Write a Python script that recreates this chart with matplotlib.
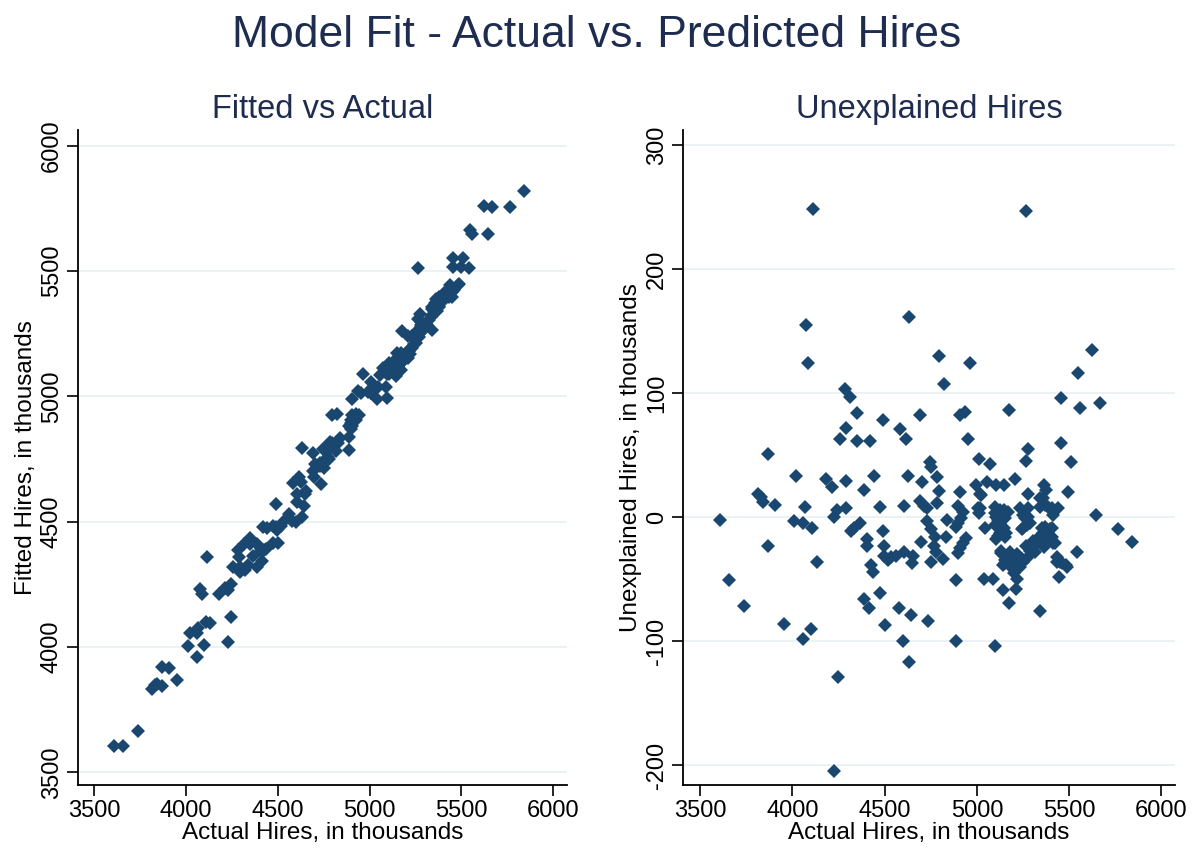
import matplotlib
matplotlib.use('Agg')
import matplotlib.pyplot as plt
import numpy as np

# actual hires and unexplained part (thousands)
actual = [4113,4075,4086,4634,4284,4313,5265,4794,4964,4821,5625,5549,5456,5665,
    4289,4257,3868,4021,4180,4212,4292,3812,3832,3840,3908,4066,4244,4293,4226,3605,4008,4059,4108,3868,4131,
    4349,4491,4691,4906,4937,5175,4349,4418,4585,4616,4952,4745,4750,5010,5070,
    4443,4389,4625,4701,4784,4793,4906,4993,5057,5106,5148,5021,
    4473,4603,4689,4712,4727,4785,4897,5007,5010,5097,5100,5148,5115,
    4925,4916,4897,4888,4837,4727,4367,4335,4320,4752,4774,4491,5046,
    5115,5148,5124,5152,5106,
    4407,4407,4830,4498,4698,4770,4779,4943,4925,4906,4897,
    4498,4535,4562,4516,4607,4652,4649,4752,4815,5133,5152,5142,5178,4425,
    5560,5275,5264,5456,5510,5209,5363,5376,5358,5340,5496,5279,5387,5438,5414,5645,5765,5841,
    5260,5251,5269,5369,5405,5360,5396,5333,5378,5414,5365,
    5264,5287,5215,5188,5242,5314,5433,5451,5483,5541,5151,5197,
    4435,3654,3736,3953,4099,4059,4247,4226,4386,4416,4474,4502,4576,4643,4598,4634,4734,
    4888,4888,5097,5039,5088,5188,5202,5220,5142,5211,5173,5342,5215,5251,5433,5460,5487,5446,
    5278,5341,5369,5405,5278,5287,5351,5396,5360,5405,5378,5342,5423,5324,5306,5287,5296,5269,
    5015,5015,5124,5170,5106,5152,5124,5097,5133,5160,5115,5233,5251,5242,5133,5178,5215,5170,5197,5233]

unexplained = [248,155,124,161,103,97,247,130,124,107,135,116,96,92,
    72,63,51,33,31,24,29,19,16,12,10,8,6,7,0,-2,-3,-5,-9,-23,-36,
    84,78,82,82,85,86,61,61,71,63,63,44,40,47,43,
    33,22,33,28,32,21,20,26,28,26,26,18,
    8,9,13,9,7,11,9,7,3,8,3,6,-2,
    4,-1,-5,-8,-2,-3,-5,-9,-11,-10,-16,-11,-9,
    -5,-9,-13,-16,-18,
    -18,-23,-16,-23,-20,-23,-28,-17,-21,-25,-29,
    -31,-32,-31,-35,-28,-31,-37,-36,-34,-29,-35,-39,-39,-39,
    88,55,45,60,44,31,26,22,15,8,20,7,8,7,2,2,-10,-20,
    -1,-9,-6,-8,-9,-13,-15,-17,-18,-21,-24,
    -23,-27,-30,-32,-34,-28,-32,-36,-39,-28,-37,-40,
    -44,-51,-72,-86,-90,-98,-129,-205,-66,-73,-61,-87,-73,-79,-100,-117,-84,
    -51,-100,-104,-50,-50,-41,-45,-50,-59,-58,-69,-76,-35,-36,-36,-37,-40,-48,
    19,15,10,7,0,-5,-9,-10,-15,-16,-20,-19,-21,-21,-19,-23,-28,-33,
    19,7,6,4,0,-1,-5,-6,-10,-13,-15,7,2,-10,-27,-28,-31,-33,-37,-40]

x_ticks = [3500, 4000, 4500, 5000, 5500, 6000]
fit_ticks = [3500, 4000, 4500, 5000, 5500, 6000]
res_ticks = [-200, -100, 0, 100, 200, 300]

fitted = np.array(actual) + np.array(unexplained)

navy = '#1a476f'
title_col = '#1e2d4f'
plt.rcParams['font.family'] = ['Liberation Sans', 'DejaVu Sans']
plt.rcParams['axes.unicode_minus'] = False


def style_axis(ax, yticks, ylabel, title):
    for s in ['top', 'right']:
        ax.spines[s].set_visible(False)
    for s in ['left', 'bottom']:
        ax.spines[s].set_linewidth(1.3)
    ax.set_xticks(x_ticks)
    ax.set_yticks(yticks)
    ax.yaxis.grid(True, color='#e8f0f2', linewidth=1.2)
    ax.set_axisbelow(True)
    ax.tick_params(length=8, width=1.2, labelsize=17, pad=3)
    for lab in ax.get_yticklabels():
        lab.set_rotation(90)
        lab.set_verticalalignment('center')
    ax.set_xlabel('Actual Hires, in thousands', fontsize=17.5, labelpad=0)
    ax.set_ylabel(ylabel, fontsize=17.5, labelpad=3)
    ax.set_title(title, fontsize=23.5, color=title_col, pad=9)


fig = plt.figure(figsize=(11.93, 8.52), dpi=100)
ax1 = fig.add_axes([0.0656, 0.0786, 0.4094, 0.7688])
ax2 = fig.add_axes([0.5728, 0.0786, 0.4120, 0.7688])

ax1.plot(actual, fitted, 'D', color=navy, markersize=7, markeredgewidth=0)
ax1.set_xlim(3413, 6073)
ax1.set_ylim(3449, 6063)
style_axis(ax1, fit_ticks, 'Fitted Hires, in thousands', 'Fitted vs Actual')

ax2.plot(actual, unexplained, 'D', color=navy, markersize=7, markeredgewidth=0)
ax2.set_xlim(3409, 6073)
ax2.set_ylim(-216, 312)
style_axis(ax2, res_ticks, 'Unexplained Hires, in thousands', 'Unexplained Hires')

fig.suptitle('Model Fit - Actual vs. Predicted Hires', fontsize=32, color=title_col, y=0.982)

fig.savefig('out.png', dpi=100)
